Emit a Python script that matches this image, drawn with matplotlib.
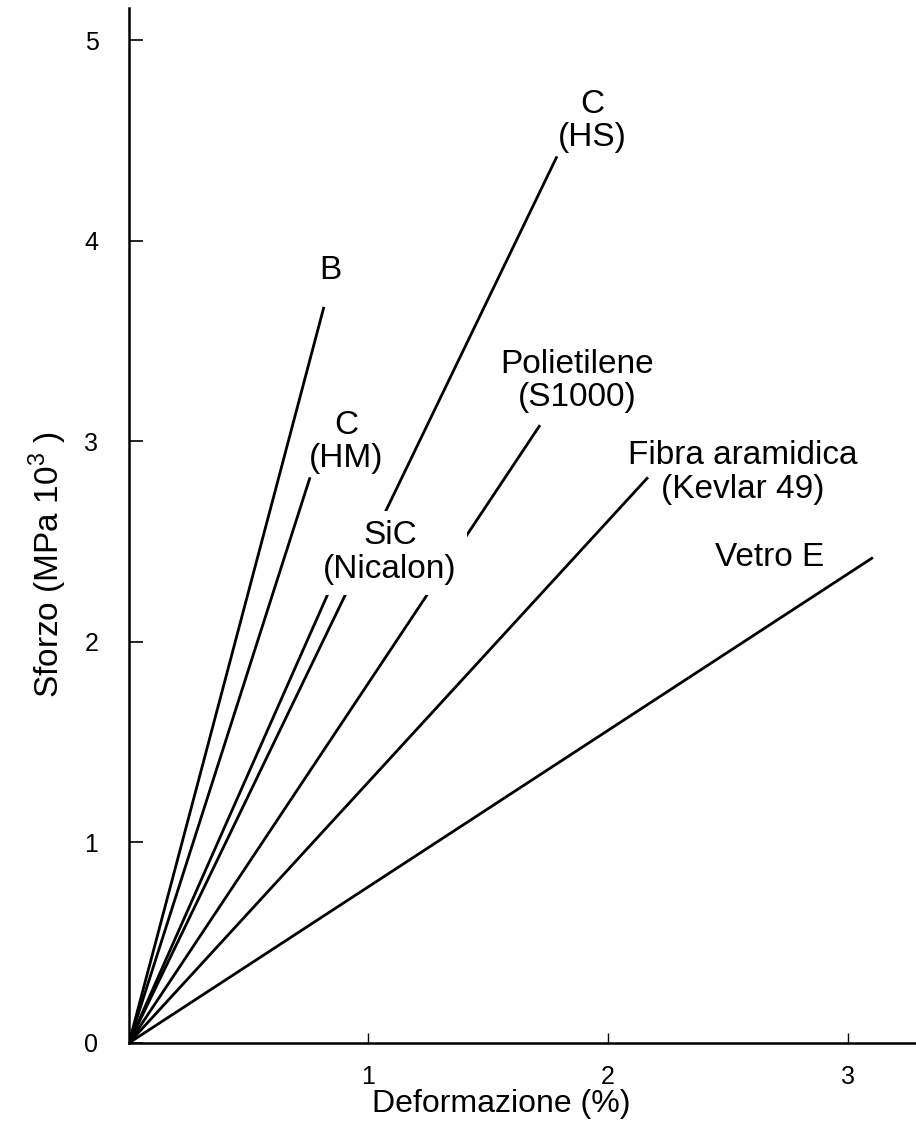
import matplotlib
matplotlib.use("Agg")
import matplotlib.pyplot as plt

plt.rcParams['font.family'] = ['Liberation Sans', 'DejaVu Sans']
plt.rcParams['mathtext.fontset'] = 'custom'
plt.rcParams['mathtext.rm'] = 'Liberation Sans'

# Data: linear stress-strain curves from origin to break point
fibres = ['B', 'C\n(HM)', 'C\n(HS)', 'SiC\n(Nicalon)', 'Polietilene\n(S1000)',
          'Fibra aramidica\n(Kevlar 49)', 'Vetro E']
strain_break = [0.814, 0.756, 1.787, 0.831, 1.716, 2.167, 3.106]   # %
stress_break = [3.67, 2.82, 4.42, 2.24, 3.08, 2.82, 2.42]          # MPa 10^3

# Label anchor positions (data coords) and whether the label masks lines behind it
label_x = [0.839, 0.906, 1.933, 1.090, 1.871, 2.564, 2.676]
label_y = [3.853, 2.996, 4.596, 2.443, 3.300, 2.846, 2.418]
label_mask = [False, False, False, True, False, False, False]

x_ticks = [1, 2, 3]
y_ticks = [0, 1, 2, 3, 4, 5]

fig = plt.figure(figsize=(9.16, 11.30), dpi=100)
ax = fig.add_axes([0.1408, 0.0770, 0.8592, 0.9160])

for sx, sy in zip(strain_break, stress_break):
    ax.plot([0, sx], [0, sy], color='black', lw=2.0, solid_capstyle='butt', zorder=2)

for name, lx, ly, m in zip(fibres, label_x, label_y, label_mask):
    kw = {}
    if m:
        kw['bbox'] = dict(facecolor='white', edgecolor='none', pad=7)
    ax.text(lx, ly, name, ha='center', va='center', multialignment='center',
            fontsize=24, linespacing=1.12, zorder=5, **kw)

ax.set_xlim(0, 3.286)
ax.set_ylim(0, 5.16)

for side in ('top', 'right'):
    ax.spines[side].set_visible(False)
for side in ('left', 'bottom'):
    ax.spines[side].set_linewidth(1.8)

ax.set_xticks(x_ticks)
ax.set_xticklabels([str(t) for t in x_ticks])
ax.set_yticks(y_ticks)
ax.set_yticklabels([str(t) for t in y_ticks])
ax.tick_params(axis='x', direction='in', length=7, width=1.0, labelsize=18, pad=16)
ax.tick_params(axis='y', direction='in', length=10, width=1.2, labelsize=18, pad=22)

ax.set_xlabel('Deformazione (%)', fontsize=23)
ax.xaxis.set_label_coords(0.473, -0.0445)
ax.set_ylabel(r'Sforzo (MPa 10$^{\mathregular{3}}$ )', fontsize=24)
ax.yaxis.set_label_coords(-0.076, 0.462)

fig.savefig('out.png', dpi=100, facecolor='white')
